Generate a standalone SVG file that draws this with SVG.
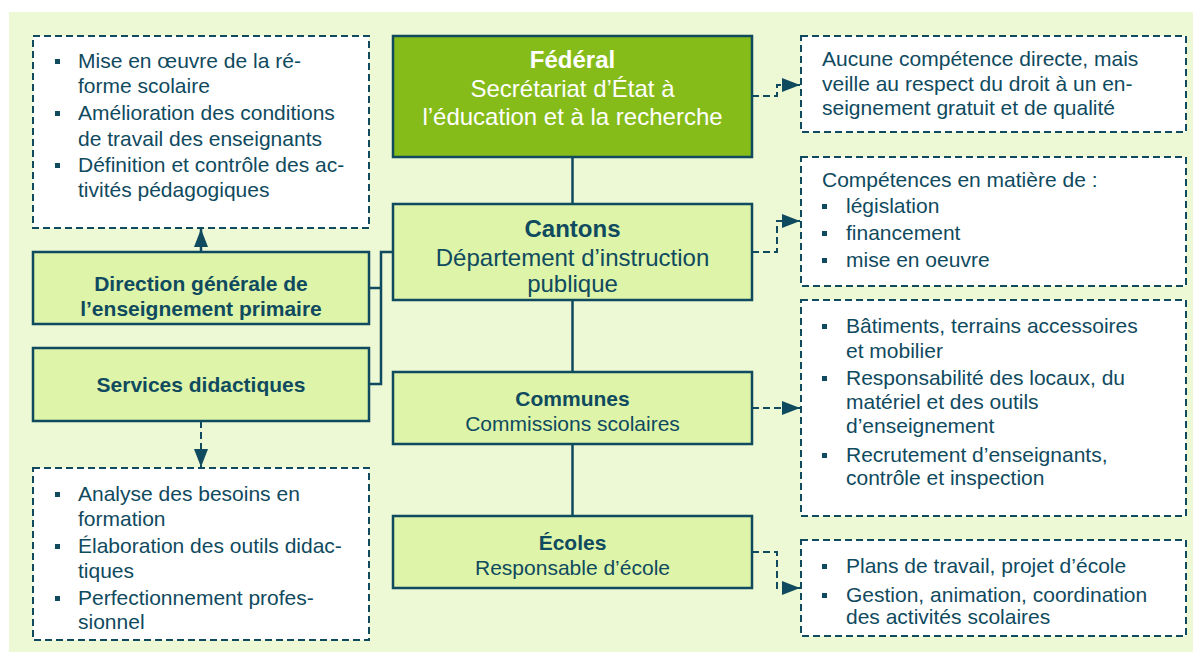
<svg xmlns="http://www.w3.org/2000/svg" width="1193" height="652" viewBox="0 0 1193 652">
<defs>
<style>
text{font-family:"Liberation Sans",Arial,sans-serif;fill:#0F4A5E;}
.t21{font-size:21px;}
.t24{font-size:24px;}
.b{font-weight:bold;}
.c{text-anchor:middle;}
.w{fill:#FFFFFF;}
.main{fill:#DDF4A9;stroke:#0F4A5E;stroke-width:2.5;}
.fed{fill:#86BC1A;stroke:#0F4A5E;stroke-width:2.5;}
.note{fill:#FFFFFF;stroke:#0F4A5E;stroke-width:2;stroke-dasharray:7 4;}
.solid{fill:none;stroke:#0F4A5E;stroke-width:2.5;}
.dash{fill:none;stroke:#0F4A5E;stroke-width:2;stroke-dasharray:7 4;}
.bul{fill:#0F4A5E;}
</style>
<marker id="ah" viewBox="0 0 18 14" refX="18" refY="7" markerWidth="18" markerHeight="14" markerUnits="userSpaceOnUse" orient="auto">
<path d="M0,0 L18,7 L0,14 Z" fill="#0F4A5E"/>
</marker>
</defs>
<rect x="9" y="12" width="1184" height="640" fill="#EDF8D4"/>

<g id="connectors">
<line class="solid" x1="572.5" y1="157" x2="572.5" y2="204"/>
<line class="solid" x1="572.5" y1="300" x2="572.5" y2="372"/>
<line class="solid" x1="572.5" y1="444" x2="572.5" y2="516"/>
<polyline class="solid" points="393,252 381,252 381,384 369,384"/>
<line class="solid" x1="369" y1="288" x2="381" y2="288"/>
<line class="solid" x1="201" y1="252" x2="201" y2="229" marker-end="url(#ah)"/>
<line class="dash" x1="201" y1="421" x2="201" y2="467" marker-end="url(#ah)"/>
<polyline class="dash" points="752,96 777,96 777,85 800,85" marker-end="url(#ah)"/>
<polyline class="dash" points="752,252 777,252 777,221 800,221" marker-end="url(#ah)"/>
<polyline class="dash" points="752,408 800,408" marker-end="url(#ah)"/>
<polyline class="dash" points="752,552 777,552 777,588 800,588" marker-end="url(#ah)"/>
</g>

<g id="federal">
<rect class="fed" x="393" y="36" width="359" height="121"/>
<text class="t24 b c w" x="572.5" y="68">Fédéral</text>
<text class="t24 c w" x="572.5" y="97">Secrétariat d’État à</text>
<text class="t24 c w" x="572.5" y="125">l’éducation et à la recherche</text>
</g>

<g id="cantons">
<rect class="main" x="393" y="204" width="359" height="96"/>
<text class="t24 b c" x="572.5" y="237">Cantons</text>
<text class="t24 c" x="572.5" y="266">Département d’instruction</text>
<text class="t24 c" x="572.5" y="292">publique</text>
</g>

<g id="communes">
<rect class="main" x="393" y="372" width="359" height="72"/>
<text class="t21 b c" x="572.5" y="406">Communes</text>
<text class="t21 c" x="572.5" y="431">Commissions scolaires</text>
</g>

<g id="ecoles">
<rect class="main" x="393" y="516" width="359" height="72"/>
<text class="t21 b c" x="572.5" y="550">Écoles</text>
<text class="t21 c" x="572.5" y="575">Responsable d’école</text>
</g>

<g id="direction">
<rect class="main" x="33" y="252" width="336" height="72"/>
<text class="t21 b c" x="201" y="291">Direction générale de</text>
<text class="t21 b c" x="201" y="316">l’enseignement primaire</text>
</g>

<g id="services">
<rect class="main" x="33" y="348" width="336" height="73"/>
<text class="t21 b c" x="201" y="392">Services didactiques</text>
</g>

<g id="note-direction">
<rect class="note" x="33" y="36" width="336" height="192"/>
<rect class="bul" x="55" y="59" width="5" height="5"/>
<rect class="bul" x="55" y="111" width="5" height="5"/>
<rect class="bul" x="55" y="163" width="5" height="5"/>
<text class="t21" x="78" y="68">Mise en œuvre de la ré-</text>
<text class="t21" x="78" y="93">forme scolaire</text>
<text class="t21" x="78" y="120">Amélioration des conditions</text>
<text class="t21" x="78" y="146">de travail des enseignants</text>
<text class="t21" x="78" y="172">Définition et contrôle des ac-</text>
<text class="t21" x="78" y="197">tivités pédagogiques</text>
</g>

<g id="note-services">
<rect class="note" x="33" y="468" width="336" height="172"/>
<rect class="bul" x="55" y="492" width="5" height="5"/>
<rect class="bul" x="55" y="544" width="5" height="5"/>
<rect class="bul" x="55" y="596" width="5" height="5"/>
<text class="t21" x="78" y="501">Analyse des besoins en</text>
<text class="t21" x="78" y="526">formation</text>
<text class="t21" x="78" y="553">Élaboration des outils didac-</text>
<text class="t21" x="78" y="578">tiques</text>
<text class="t21" x="78" y="605">Perfectionnement profes-</text>
<text class="t21" x="78" y="629">sionnel</text>
</g>

<g id="note-federal">
<rect class="note" x="801" y="36" width="385" height="96"/>
<text class="t21" x="822" y="66">Aucune compétence directe, mais</text>
<text class="t21" x="822" y="91">veille au respect du droit à un en-</text>
<text class="t21" x="822" y="115">seignement gratuit et de qualité</text>
</g>

<g id="note-cantons">
<rect class="note" x="801" y="157" width="385" height="129"/>
<text class="t21" x="822" y="187">Compétences en matière de :</text>
<rect class="bul" x="822" y="204" width="5" height="5"/>
<rect class="bul" x="822" y="231" width="5" height="5"/>
<rect class="bul" x="822" y="258" width="5" height="5"/>
<text class="t21" x="846" y="213">législation</text>
<text class="t21" x="846" y="240">financement</text>
<text class="t21" x="846" y="267">mise en oeuvre</text>
</g>

<g id="note-communes">
<rect class="note" x="801" y="300" width="385" height="216"/>
<rect class="bul" x="822" y="324" width="5" height="5"/>
<rect class="bul" x="822" y="376" width="5" height="5"/>
<rect class="bul" x="822" y="453" width="5" height="5"/>
<text class="t21" x="846" y="333">Bâtiments, terrains accessoires</text>
<text class="t21" x="846" y="358">et mobilier</text>
<text class="t21" x="846" y="385">Responsabilité des locaux, du</text>
<text class="t21" x="846" y="409">matériel et des outils</text>
<text class="t21" x="846" y="433">d’enseignement</text>
<text class="t21" x="846" y="462">Recrutement d’enseignants,</text>
<text class="t21" x="846" y="485">contrôle et inspection</text>
</g>

<g id="note-ecoles">
<rect class="note" x="801" y="540" width="385" height="96"/>
<rect class="bul" x="822" y="564" width="5" height="5"/>
<rect class="bul" x="822" y="593" width="5" height="5"/>
<text class="t21" x="846" y="573">Plans de travail, projet d’école</text>
<text class="t21" x="846" y="602">Gestion, animation, coordination</text>
<text class="t21" x="846" y="624">des activités scolaires</text>
</g>
</svg>
